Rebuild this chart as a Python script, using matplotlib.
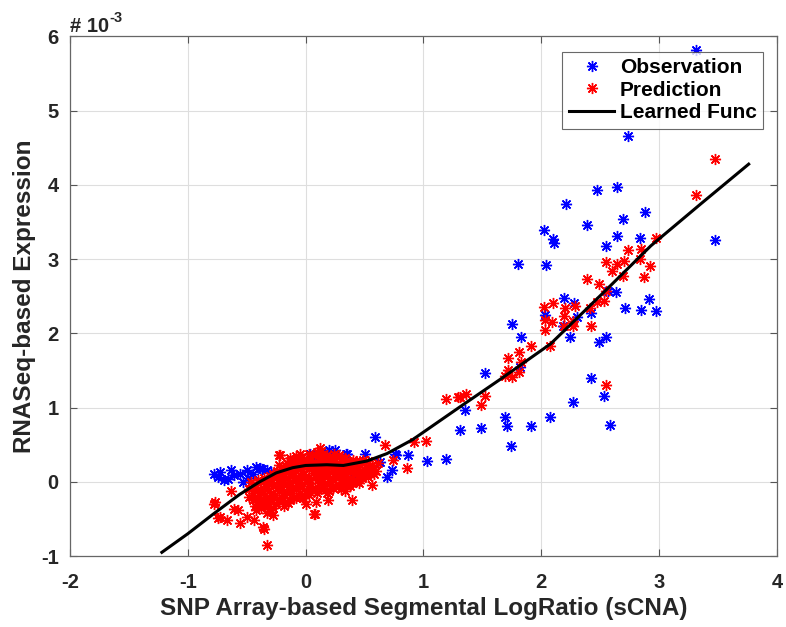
import numpy as np
import matplotlib
matplotlib.use("Agg")
import matplotlib.pyplot as plt

plt.rcParams['font.family'] = ['Liberation Sans', 'DejaVu Sans']
plt.rcParams['font.weight'] = 'bold'
plt.rcParams['axes.unicode_minus'] = False

# observation points (x = sCNA log ratio, y = expression in 1e-3)
obs_x = [3.31, 2.74, 2.47, 2.64, 2.21, 2.88, 2.39, 2.69, 2.02, 2.10, 2.11, 2.64, 2.84,
         2.55, 3.47, 1.80, 2.04, 2.19, 2.28, 2.63, 2.57, 2.91, 2.71, 2.85, 2.97, 2.03,
         2.30, 2.42, 2.18, 1.75, 1.83, 2.24, 2.49, 2.55, 1.82, 1.52, 2.42, 2.27, 2.53,
         1.35, 1.31, 1.49, 1.69, 1.71, 1.91, 2.07, 2.58, 1.74,
         1.03, 1.19, 0.87, 0.59, 0.50, 0.69, 0.76, 0.63, 0.73, 0.77, 0.40, 0.35, 0.29,
         0.25, 0.21, 0.18, 0.09, 0.04, 0.20, 0.34,
         -0.78, -0.74, -0.69, -0.63, -0.61, -0.56, -0.50, -0.49, -0.42, -0.37, -0.33,
         -0.29, -0.53, -0.73, -0.39, -0.66, -0.45]
obs_y = [5.82, 4.66, 3.93, 3.97, 3.74, 3.64, 3.46, 3.54, 3.39, 3.27, 3.22, 3.31, 3.29,
         3.18, 3.26, 2.93, 2.92, 2.48, 2.41, 2.56, 2.57, 2.46, 2.34, 2.31, 2.30, 2.25,
         2.22, 2.27, 2.10, 2.13, 1.95, 1.95, 1.88, 1.95, 1.55, 1.47, 1.40, 1.07, 1.15,
         0.97, 0.70, 0.73, 0.87, 0.75, 0.75, 0.87, 0.77, 0.48,
         0.28, 0.31, 0.36, 0.61, 0.38, 0.07, 0.37, 0.27, 0.16, 0.36, 0.11, 0.38, 0.16,
         0.43, 0.25, 0.40, 0.32, 0.38, 0.43, 0.38,
         0.11, 0.07, 0.03, 0.16, 0.09, 0.11, 0.16, 0.05, 0.20, 0.17, 0.16,
         0.13, 0.00, 0.13, 0.18, 0.04, 0.10]

# prediction points
pred_x = [3.47, 3.31, 2.97, 2.74, 2.85, 2.84, 2.92, 2.87, 2.55, 2.64, 2.70, 2.60, 2.69,
          2.39, 2.49, 2.55, 2.47, 2.53, 2.41, 2.10, 2.02, 2.20, 2.29, 2.19, 2.03, 2.09,
          2.27, 2.27, 2.42, 2.03, 2.19, 2.07, 1.91, 1.81, 1.83, 1.72, 1.72, 1.69, 1.75,
          1.81, 1.52, 1.49, 1.31, 1.36, 2.55, 1.19, 1.29, 1.02, 0.92, 0.86, 0.67, 0.56,
          0.74, 0.45, 0.35, 0.39, 0.19, 0.09, 0.08, 0.07, -0.02, -0.19, 0.12, -0.05,
          -0.13, -0.22, -0.23,
          -0.77, -0.73, -0.63, -0.61, -0.57, -0.56, -0.67, -0.50, -0.44, -0.36, -0.33,
          -0.30, -0.44, -0.39, -0.35, -0.74, -0.78]
pred_y = [4.35, 3.86, 3.28, 3.12, 3.14, 3.00, 2.91, 2.76, 2.96, 2.93, 2.97, 2.84, 2.77,
          2.73, 2.67, 2.57, 2.42, 2.44, 2.34, 2.41, 2.36, 2.34, 2.37, 2.23, 2.18, 2.15,
          2.17, 2.10, 2.10, 2.05, 2.10, 1.83, 1.83, 1.75, 1.61, 1.67, 1.50, 1.43, 1.41,
          1.48, 1.16, 1.04, 1.14, 1.18, 1.31, 1.12, 1.14, 0.55, 0.54, 0.18, 0.50, -0.04,
          0.29, -0.02, -0.02, -0.24, -0.25, -0.27, -0.43, -0.44, -0.22, -0.25, 0.45, 0.38,
          0.32, 0.36, 0.36,
          -0.27, -0.47, -0.13, -0.36, -0.38, -0.56, -0.52, -0.47, -0.52, -0.61, -0.85,
          -0.36, -0.11, -0.25, -0.63, -0.49, -0.30]

# dense core of the prediction cloud, read column by column
core_x = [-0.45, -0.45, -0.45, -0.46,
          -0.40, -0.41, -0.39, -0.40, -0.42,
          -0.35, -0.36, -0.34, -0.35, -0.33,
          -0.30, -0.31, -0.29, -0.30, -0.28,
          -0.25, -0.26, -0.24, -0.25, -0.24,
          -0.20, -0.21, -0.19, -0.20, -0.21,
          -0.15, -0.16, -0.14, -0.15, -0.15, -0.16,
          -0.10, -0.11, -0.09, -0.10, -0.11, -0.09,
          -0.05, -0.06, -0.04, -0.05, -0.05,
          0.00, 0.01, -0.01, 0.00, 0.01, 0.00,
          0.05, 0.04, 0.06, 0.05, 0.04,
          0.10, 0.11, 0.09, 0.10, 0.11, 0.10,
          0.15, 0.14, 0.16, 0.15, 0.14,
          0.20, 0.21, 0.19, 0.20, 0.21,
          0.25, 0.24, 0.26, 0.25, 0.24,
          0.30, 0.31, 0.29, 0.30, 0.31,
          0.35, 0.34, 0.36, 0.35,
          0.40, 0.41, 0.39, 0.40,
          0.45, 0.46, 0.44,
          0.50, 0.51, 0.49,
          0.55, 0.56, 0.60, 0.61]
core_y = [-0.05, -0.15, -0.25, 0.00,
          -0.30, -0.20, -0.10, 0.02, -0.38,
          -0.28, -0.15, -0.05, 0.05, -0.42,
          -0.25, -0.12, 0.00, 0.08, -0.45,
          -0.30, -0.18, -0.08, 0.05, 0.15,
          -0.22, -0.10, 0.00, 0.10, 0.20,
          -0.28, -0.15, -0.05, 0.05, 0.15, 0.25,
          -0.20, -0.08, 0.02, 0.12, 0.22, 0.30,
          -0.15, -0.02, 0.08, 0.18, 0.28,
          -0.12, 0.00, 0.10, 0.20, 0.30, -0.30,
          -0.10, 0.02, 0.12, 0.22, 0.33,
          -0.15, -0.02, 0.10, 0.20, 0.30, 0.40,
          -0.08, 0.05, 0.15, 0.25, 0.35,
          -0.12, 0.00, 0.10, 0.20, 0.30,
          -0.05, 0.08, 0.18, 0.28, 0.38,
          -0.10, 0.02, 0.12, 0.22, 0.32,
          -0.05, 0.08, 0.18, 0.28,
          0.00, 0.10, 0.20, 0.30,
          0.05, 0.15, 0.25,
          0.10, 0.20, 0.30,
          0.12, 0.22, 0.15, 0.25]

# second pass over the core, between the columns above
core2_x = [-0.48, -0.48,
           -0.43, -0.43, -0.43,
           -0.38, -0.38, -0.38, -0.38,
           -0.33, -0.33, -0.33, -0.33,
           -0.28, -0.28, -0.28, -0.28,
           -0.23, -0.23, -0.23, -0.23, -0.23,
           -0.18, -0.18, -0.18, -0.18, -0.18,
           -0.13, -0.13, -0.13, -0.13, -0.13, -0.13,
           -0.08, -0.08, -0.08, -0.08, -0.08, -0.08,
           -0.03, -0.03, -0.03, -0.03, -0.03, -0.03,
           0.03, 0.03, 0.03, 0.03, 0.03, 0.03,
           0.08, 0.08, 0.08, 0.08, 0.08,
           0.13, 0.13, 0.13, 0.13, 0.13, 0.13,
           0.18, 0.18, 0.18, 0.18, 0.18, 0.18,
           0.23, 0.23, 0.23, 0.23, 0.23,
           0.28, 0.28, 0.28, 0.28, 0.28,
           0.33, 0.33, 0.33, 0.33, 0.33,
           0.38, 0.38, 0.38, 0.38,
           0.43, 0.43, 0.43, 0.43,
           0.48, 0.48, 0.48,
           0.53, 0.53, 0.53,
           0.58, 0.58]
core2_y = [-0.20, -0.10,
           -0.33, -0.22, -0.07,
           -0.35, -0.24, -0.12, 0.00,
           -0.32, -0.20, -0.08, 0.03,
           -0.35, -0.20, -0.05, 0.10,
           -0.25, -0.13, -0.02, 0.10, 0.22,
           -0.32, -0.18, -0.04, 0.08, 0.18,
           -0.25, -0.12, 0.00, 0.10, 0.20, 0.28,
           -0.22, -0.10, 0.05, 0.15, 0.25, 0.35,
           -0.20, -0.06, 0.05, 0.15, 0.25, 0.33,
           -0.18, -0.05, 0.06, 0.17, 0.27, 0.38,
           -0.08, 0.06, 0.16, 0.26, 0.36,
           -0.10, 0.00, 0.12, 0.22, 0.32, 0.42,
           -0.15, -0.03, 0.08, 0.18, 0.28, 0.36,
           -0.08, 0.03, 0.14, 0.24, 0.34,
           -0.04, 0.06, 0.16, 0.26, 0.36,
           -0.12, 0.00, 0.12, 0.22, 0.32,
           -0.05, 0.05, 0.15, 0.25,
           0.00, 0.10, 0.20, 0.28,
           0.05, 0.15, 0.25,
           0.06, 0.18, 0.28,
           0.10, 0.20]

# learned function
func_x = [-1.22, -1.00, -0.78, -0.56, -0.39, -0.25, -0.11, 0.00, 0.18, 0.32, 0.52,
          0.69, 0.91, 1.11, 1.31, 1.66, 2.08, 2.56, 2.93, 3.35, 3.76]
func_y = [-0.95, -0.70, -0.43, -0.17, 0.00, 0.12, 0.19, 0.22, 0.23, 0.22, 0.28,
          0.38, 0.57, 0.79, 1.01, 1.39, 1.86, 2.60, 3.18, 3.74, 4.28]

txt = '#262626'
ast = (8, 2, 0)

fig = plt.figure(figsize=(7.86, 6.27), dpi=100)
ax = fig.add_axes([0.089, 0.1132, 0.8995, 0.8286])

ax.plot(obs_x, obs_y, ls='none', marker=ast, ms=8, mew=1.0, color='blue', label='Observation')
ax.plot(pred_x + core_x + core2_x, pred_y + core_y + core2_y, ls='none', marker=ast,
        ms=8, mew=1.0, color='red', label='Prediction')
ax.plot(func_x, func_y, color='black', lw=2.2, label='Learned Func')

ax.set_xlim(-2, 4)
ax.set_ylim(-1, 6)
ax.set_xticks(range(-2, 5))
ax.set_yticks(range(-1, 7))
ax.grid(True, color='#dedede', lw=0.8)
ax.set_axisbelow(True)
ax.tick_params(direction='in', length=5, width=0.8, top=True, right=True,
               labelsize=14.5, colors='#555555', labelcolor=txt)
ax.tick_params(axis='x', pad=12)
ax.tick_params(axis='y', pad=8)
for lab in ax.get_xticklabels() + ax.get_yticklabels():
    lab.set_fontweight('bold')
for s in ax.spines.values():
    s.set_color('#666666')
    s.set_linewidth(0.9)

ax.set_xlabel('SNP Array-based Segmental LogRatio (sCNA)', fontsize=17.5, fontweight='bold',
              color=txt, labelpad=4)
ax.set_ylabel('RNASeq-based Expression', fontsize=17.5, fontweight='bold', color=txt,
              labelpad=4)

ax.text(0.0, 1.009, '# 10', transform=ax.transAxes, fontsize=14.5, fontweight='bold',
        color=txt, ha='left', va='baseline')
ax.text(0.056, 1.028, '-3', transform=ax.transAxes, fontsize=10.5, fontweight='bold',
        color=txt, ha='left', va='baseline')

leg = ax.legend(loc='upper right', bbox_to_anchor=(0.98, 0.971), borderaxespad=0.0,
                fontsize=15, frameon=True, fancybox=False, edgecolor='#444444',
                handlelength=2.2, handletextpad=0.25, borderpad=0.3, labelspacing=0.18)
leg.get_frame().set_linewidth(0.8)
for t in leg.get_texts():
    t.set_fontweight('bold')
    t.set_color('black')

fig.savefig('out.png', dpi=100)
